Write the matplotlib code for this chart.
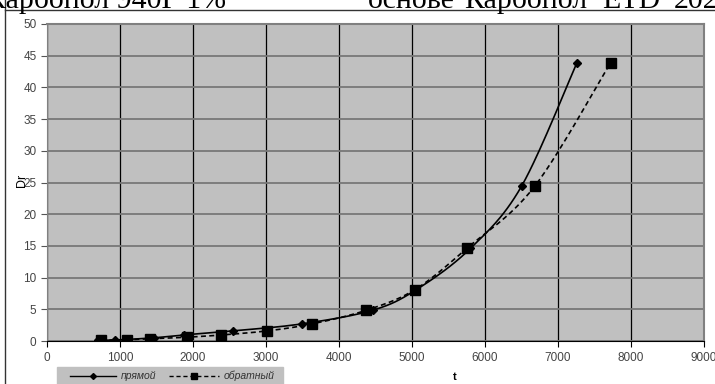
import numpy as np
import matplotlib.pyplot as plt
from matplotlib.lines import Line2D

# данные: прямой ход
t_pr = [700, 930, 1460, 1870, 2550, 3490, 4460, 5060, 5800, 6500, 7260]
d_pr = [0.1, 0.15, 0.5, 0.95, 1.6, 2.7, 4.85, 8.1, 14.6, 24.4, 43.9]

# данные: обратный ход
t_ob = [740, 1090, 1415, 1915, 2390, 3020, 3630, 4375, 5040, 5750, 6680, 7720]
d_ob = [0.1, 0.2, 0.35, 0.6, 0.95, 1.6, 2.7, 4.85, 8.1, 14.6, 24.4, 43.9]

x_ticks = [0, 1000, 2000, 3000, 4000, 5000, 6000, 7000, 8000, 9000]
y_ticks = [0, 5, 10, 15, 20, 25, 30, 35, 40, 45, 50]

# обрезанная строка текста над графиком (выровнена по ширине)
top_words = ['основе', 'Карбопол', 'ETD', '2020']


def smooth(xs, ys, n=30):
    # сглаживание как в Excel (Catmull-Rom)
    p = np.column_stack([xs, ys]).astype(float)
    p = np.vstack([p[0], p, p[-1]])
    out = []
    for i in range(1, len(p) - 2):
        p0, p1, p2, p3 = p[i - 1], p[i], p[i + 1], p[i + 2]
        s = np.linspace(0, 1, n)[:, None]
        seg = 0.5 * ((2 * p1) + (-p0 + p2) * s + (2 * p0 - 5 * p1 + 4 * p2 - p3) * s**2
                     + (-p0 + 3 * p1 - 3 * p2 + p3) * s**3)
        out.append(seg)
    out = np.vstack(out)
    return out[:, 0], out[:, 1]


W, H = 715, 384
fig = plt.figure(figsize=(W / 100, H / 100), dpi=100)
fig.patch.set_facecolor('white')

ax = fig.add_axes([47 / W, (H - 341) / H, (704 - 47) / W, (341 - 24) / H])
ax.set_facecolor('#c0c0c0')

sx, sy = smooth(t_pr, d_pr)
ax.plot(sx, sy, color='black', lw=1.2)
ax.plot(t_pr, d_pr, ls='none', marker='D', ms=4, color='black')

sx, sy = smooth(t_ob, d_ob)
ax.plot(sx, sy, color='black', lw=1.2, ls=(0, (3, 2)))
ax.plot(t_ob, d_ob, ls='none', marker='s', ms=6.5, color='black')

ax.set_xlim(0, 9000)
ax.set_ylim(0, 50)
ax.set_xticks(x_ticks)
ax.set_yticks(y_ticks)
ax.grid(axis='x', color='black', lw=0.9)
ax.grid(axis='y', color='#777777', lw=1.3)
ax.set_axisbelow(True)
for s in ['top', 'right']:
    ax.spines[s].set_color('#808080')
    ax.spines[s].set_linewidth(1.5)
ax.spines['left'].set_color('#808080')
ax.spines['bottom'].set_color('black')
ax.tick_params(axis='both', labelsize=8.5, labelcolor='#444444', length=4,
               color='#555555', labelfontfamily='Liberation Sans')
ax.tick_params(axis='x', pad=4, colors='black', labelcolor='#444444')

# подписи осей
fig.text(22 / W, 1 - 180 / H, 'Dr', rotation=90, fontsize=9, family='Liberation Sans',
         ha='center', va='center')
fig.text(455 / W, 1 - 377 / H, 't', fontsize=8, fontweight='bold', family='Liberation Sans',
         ha='center', va='center')

# легенда
fig.patches.append(plt.Rectangle((57 / W, 0), (283 - 57) / W, 17 / H,
                                 transform=fig.transFigure, color='#c0c0c0', zorder=0))
fig.add_artist(Line2D([70 / W, 93 / W, 116 / W], [1 - 376 / H] * 3, color='black', lw=1,
                      marker='D', ms=3, markevery=[1], transform=fig.transFigure))
fig.text(121 / W, 1 - 376 / H, 'прямой', fontsize=7.5, style='italic', color='#333333',
         family='Liberation Sans', va='center')
fig.add_artist(Line2D([169 / W, 194 / W, 219 / W], [1 - 376 / H] * 3, color='black', lw=1,
                      ls=(0, (3, 2)), marker='s', ms=4.5, markevery=[1],
                      transform=fig.transFigure))
fig.text(224 / W, 1 - 376 / H, 'обратный', fontsize=7.5, style='italic', color='#333333',
         family='Liberation Sans', va='center')

# рамка и обрезанный текст сверху
fig.add_artist(Line2D([5 / W, 1], [1 - 10 / H] * 2, color='#333333', lw=1,
                      transform=fig.transFigure))
fig.add_artist(Line2D([5 / W, 5 / W], [0, 1], color='#333333', lw=1,
                      transform=fig.transFigure))
fig.text(226 / W, 1 - 8.5 / H, 'Карбопол 940Г 1%', fontsize=21.5, family='Liberation Serif',
         ha='right', va='baseline')
for word, px in zip(top_words, [368, 464, 602, 674]):
    fig.text(px / W, 1 - 8.5 / H, word, fontsize=21.5, family='Liberation Serif',
             ha='left', va='baseline')

fig.savefig('out.png', dpi=100)
